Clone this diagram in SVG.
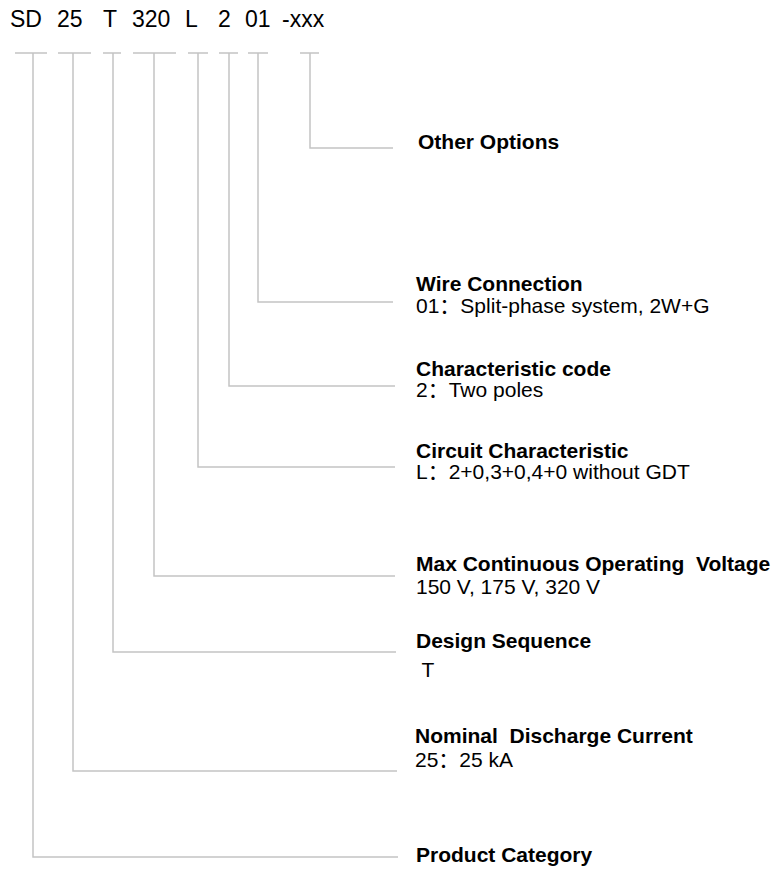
<svg xmlns="http://www.w3.org/2000/svg" width="777" height="870" viewBox="0 0 777 870">
<style>
.hdr{font-family:"Liberation Sans",Arial,sans-serif;font-size:23px;fill:#000}
.t{font-family:"Liberation Sans",Arial,sans-serif;font-size:21px;font-weight:bold;fill:#000}
.s{font-family:"Liberation Sans",Arial,"Noto Sans CJK SC",sans-serif;font-size:21px;fill:#000}
.ln{fill:none;stroke:#c4c4c4;stroke-width:1.5}
</style>
<rect width="777" height="870" fill="#fff"/>
<g id="code">
<text class="hdr" y="27"><tspan x="10">SD</tspan><tspan x="57">25</tspan><tspan x="103">T</tspan><tspan x="132">320</tspan><tspan x="185">L</tspan><tspan x="218">2</tspan><tspan x="245">01</tspan><tspan x="282">-xxx</tspan></text>
</g>
<g id="connectors">
<path class="ln" d="M15 53H47M58 53H91M103 53H121M133 53H176M188 53H208M219 53H238M248 53H268M300 53H319"/>
<path class="ln" d="M310 53V148H393"/>
<path class="ln" d="M258 53V302H393"/>
<path class="ln" d="M229 53V386H395"/>
<path class="ln" d="M198 53V467H395"/>
<path class="ln" d="M154 53V576H395"/>
<path class="ln" d="M113 53V652H396"/>
<path class="ln" d="M73 53V771H397"/>
<path class="ln" d="M33 53V857H398"/>
</g>
<g id="other-options"><text class="t" x="418" y="149">Other Options</text></g>
<g id="wire-connection"><text class="t" x="416" y="291">Wire Connection</text><text class="s" x="416" y="313">01：Split-phase system, 2W+G</text></g>
<g id="characteristic-code"><text class="t" x="416" y="376">Characteristic code</text><text class="s" x="416" y="397">2：Two poles</text></g>
<g id="circuit-characteristic"><text class="t" x="416" y="458">Circuit Characteristic</text><text class="s" x="416" y="479">L：2+0,3+0,4+0 without GDT</text></g>
<g id="max-voltage"><text class="t" x="416" y="571" xml:space="preserve">Max Continuous Operating  Voltage</text><text class="s" x="416" y="594">150 V, 175 V, 320 V</text></g>
<g id="design-sequence"><text class="t" x="416" y="648">Design Sequence</text><text class="s" x="416" y="677" xml:space="preserve"> T</text></g>
<g id="nominal-current"><text class="t" x="415" y="743" xml:space="preserve">Nominal  Discharge Current</text><text class="s" x="415" y="767">25：25 kA</text></g>
<g id="product-category"><text class="t" x="416" y="862">Product Category</text></g>
</svg>
